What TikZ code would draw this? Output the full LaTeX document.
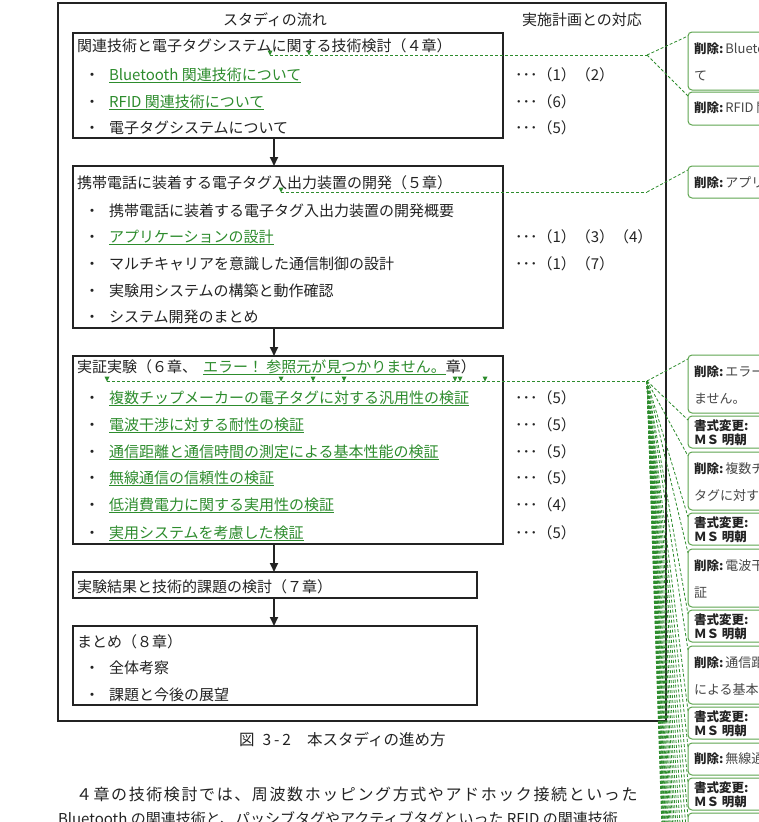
\documentclass[tikz,border=0pt]{standalone}
\usepackage{fontspec}
\setmainfont{Noto Sans CJK JP}
\newfontfamily\jpspaced[LetterSpace=10]{Noto Sans CJK JP}
\usetikzlibrary{arrows.meta}
\definecolor{ink}{RGB}{35,35,35}
\definecolor{trk}{RGB}{45,140,45}
\definecolor{bln}{RGB}{95,165,80}
\definecolor{txtgray}{RGB}{70,70,70}
\begin{document}
\begin{tikzpicture}[x=1pt,y=-1pt,
  every node/.style={inner sep=0pt,outer sep=0pt,text=ink},
  frame/.style={draw=ink,line width=1.2pt,anchor=north west},
  tx/.style={anchor=west,font=\fontsize{15}{18}\selectfont,text height=13pt,text depth=2pt},
  dot/.style={tx,anchor=center},
  chg/.style={tx,text=trk},
  ul/.style={draw=trk,line width=0.8pt},
  flow/.style={line width=1.9pt,draw=ink,-{Triangle[length=9pt,width=8pt]}},
  trackline/.style={draw=trk,dash pattern=on 3pt off 2pt,line width=0.8pt},
  bal/.style={draw=bln,line width=1pt,rounded corners=4pt,fill=white,anchor=north west,minimum width=120},
  bl/.style={anchor=west,font=\fontsize{12.5}{14}\selectfont\bfseries,text height=10.5pt,text depth=2pt},
  bc/.style={anchor=west,font=\fontsize{13}{15}\selectfont,text=txtgray,text height=11pt,text depth=2pt},
]
\useasboundingbox (0,0) rectangle (759,822);
\clip (0,0) rectangle (759,822);
\fill[white] (0,0) rectangle (759,822);

% outer frame and boxes
\node[frame,minimum width=608,minimum height=718] (outer) at (58,3) {};
\node[frame,minimum width=430,minimum height=105] (b1) at (73,33) {};
\node[frame,minimum width=430,minimum height=162] (b2) at (73,166) {};
\node[frame,minimum width=430,minimum height=188] (b3) at (73,356) {};
\node[frame,minimum width=404,minimum height=26] (b4) at (73,572) {};
\node[frame,minimum width=404,minimum height=79] (b5) at (73,626) {};

% flow arrows
\coordinate (ax) at (274,0);
\draw[flow] (b1.south -| ax) -- (b2.north -| ax);
\draw[flow] (b2.south -| ax) -- (b3.north -| ax);
\draw[flow] (b3.south -| ax) -- (b4.north -| ax);
\draw[flow] (b4.south -| ax) -- (b5.north -| ax);

% headers
\node[tx,anchor=center] (h1) at (275,20) {スタディの流れ};
\node[tx] (h2) at (522,20) {実施計画との対応};

% box 1
\node[tx] (t1) at (77,46) {関連技術と電子タグシステムに関する技術検討（４章）};
\node[dot] (d11) at (92,75) {・};
\node[chg] (i11) at (109,75) {Bluetooth 関連技術について};
\node[dot] (d12) at (92,102) {・};
\node[chg] (i12) at (109,102) {RFID 関連技術について};
\node[dot] (d13) at (92,128) {・};
\node[tx] (i13) at (109,128) {電子タグシステムについて};
\draw[ul] (i11.south west) -- (i11.south east);
\draw[ul] (i12.south west) -- (i12.south east);
\node[tx] (r11) at (515,75) {･･･（1）（2）};
\node[tx] (r12) at (515,102) {･･･（6）};
\node[tx] (r13) at (515,128) {･･･（5）};

% box 2
\node[tx] (t2) at (77,183) {携帯電話に装着する電子タグ入出力装置の開発（５章）};
\node[dot] (d21) at (92,211) {・};
\node[tx] (i21) at (109,211) {携帯電話に装着する電子タグ入出力装置の開発概要};
\node[dot] (d22) at (92,237) {・};
\node[chg] (i22) at (109,237) {アプリケーションの設計};
\node[dot] (d23) at (92,264) {・};
\node[tx] (i23) at (109,264) {マルチキャリアを意識した通信制御の設計};
\node[dot] (d24) at (92,291) {・};
\node[tx] (i24) at (109,291) {実験用システムの構築と動作確認};
\node[dot] (d25) at (92,317) {・};
\node[tx] (i25) at (109,317) {システム開発のまとめ};
\draw[ul] (i22.south west) -- (i22.south east);
\node[tx] (r22) at (515,237) {･･･（1）（3）（4）};
\node[tx] (r23) at (515,264) {･･･（1）（7）};

% box 3
\node[tx] (t3a) at (77,367) {実証実験（６章、};
\node[chg,anchor=west] (t3b) at ([xshift=6pt]t3a.east) {エラー！ 参照元が見つかりません。};
\node[tx,anchor=west] (t3c) at (t3b.east) {章）};
\draw[ul] (t3b.south west) -- (t3b.south east);
\foreach \n/\y/\s/\r in {1/398/複数チップメーカーの電子タグに対する汎用性の検証/5,
                        2/425/電波干渉に対する耐性の検証/5,
                        3/452/通信距離と通信時間の測定による基本性能の検証/5,
                        4/478/無線通信の信頼性の検証/5,
                        5/505/低消費電力に関する実用性の検証/4,
                        6/533/実用システムを考慮した検証/5}{
  \node[dot] (d3\n) at (92,\y) {・};
  \node[chg] (i3\n) at (109,\y) {\s};
  \draw[ul] (i3\n.south west) -- (i3\n.south east);
  \node[tx] (r3\n) at (515,\y) {･･･（\r）};
}

% box 4 and 5
\node[tx] (t4) at (77,587) {実験結果と技術的課題の検討（７章）};
\node[tx] (t5) at (77,642) {まとめ（８章）};
\node[dot] (d51) at (92,668) {・};
\node[tx] (i51) at (109,668) {全体考察};
\node[dot] (d52) at (92,695) {・};
\node[tx] (i52) at (109,695) {課題と今後の展望};

% caption and body text
\node[tx,font=\fontsize{15.5}{18}\selectfont] (cap) at (239,740) {図\hspace{8pt}3\hspace{3pt}-\hspace{3pt}2\hspace{16pt}本スタディの進め方};
\node[tx,font=\jpspaced\fontsize{16}{18}\selectfont] (p1) at (76,795) {４章の技術検討では、周波数ホッピング方式やアドホック接続といった};
\node[tx] (p2) at (58,819) {Bluetooth の関連技術と、パッシブタグやアクティブタグといった RFID の関連技術};

% track-change markers and leader lines
\coordinate (c1) at (647,55);
\coordinate (c2) at (647,192);
\coordinate (c3) at (647,381);
\coordinate (m1) at (270,55);
\coordinate (m2) at (281,192);
\coordinate (m3) at (107,381);
\draw[trackline] (m1) -- (c1);
\draw[trackline] (m2) -- (c2);
\draw[trackline] (m3) -- (c3);
\foreach \x/\y in {270/55,309/55,281/192,107/381,281/381,313/381,344/381,455/381,460/381,485/381}
  \fill[trk] (\x-2.5,\y-4.5) -- (\x+2.5,\y-4.5) -- (\x,\y+0.5) -- cycle;

% balloons
\foreach \n/\t/\h in {1/32/58,2/92/33,3/166/32,4/355/58,5/416/32,6/452/58,7/513/32,8/549/58,9/610/32,10/646/58,11/707/32,12/743/32,13/778/32,14/813/32}
  \coordinate (bt\n) at (688,\t+4);
\draw[trackline] (c1) -- (bt1);
\draw[trackline] (c1) -- (bt2);
\draw[trackline] (c2) -- (bt3);
\foreach \n in {4,...,14} \draw[trackline] (c3) -- (bt\n);
\foreach \k in {0,...,19} {
  \coordinate (off\k) at (688,850+40*\k);
  \draw[trackline] (c3) -- (off\k);
}
\foreach \n/\t/\h in {1/32/58,2/92/33,3/166/32,4/355/58,5/416/32,6/452/58,7/513/32,8/549/58,9/610/32,10/646/58,11/707/32,12/743/32,13/778/32,14/813/32}
  \node[bal,minimum height=\h] (B\n) at (688,\t) {};

% balloon texts: deletions
\foreach \n/\y/\a/\b in {1/49/Bluetooth 関連技術につい/て,
                        4/372/エラー！ 参照元が見つかり/ません。,
                        6/469/複数チップメーカーの電子/タグに対する汎用性の検証,
                        8/566/電波干渉に対する耐性の検/証,
                        10/663/通信距離と通信時間の測定/による基本性能の検証}{
  \node[bl] (L\n) at (694,\y) {削除:};
  \node[bc,anchor=west] (C\n) at ([xshift=2pt]L\n.east) {\a};
  \node[bc] (D\n) at (694,\y+27) {\b};
}
\foreach \n/\y/\a in {2/108/RFID 関連技術について,3/183/アプリケーションの設計,12/759/無線通信の信頼性の検証}{
  \node[bl] (L\n) at (694,\y) {削除:};
  \node[bc,anchor=west] (C\n) at ([xshift=2pt]L\n.east) {\a};
}
% balloon texts: format changes
\foreach \n/\y in {5/426,7/523,9/620,11/717,13/788}{
  \node[bl] (F\n) at (694,\y) {書式変更:};
  \node[bl] (G\n) at (694,\y+14) {ＭＳ 明朝};
}
\end{tikzpicture}
\end{document}
